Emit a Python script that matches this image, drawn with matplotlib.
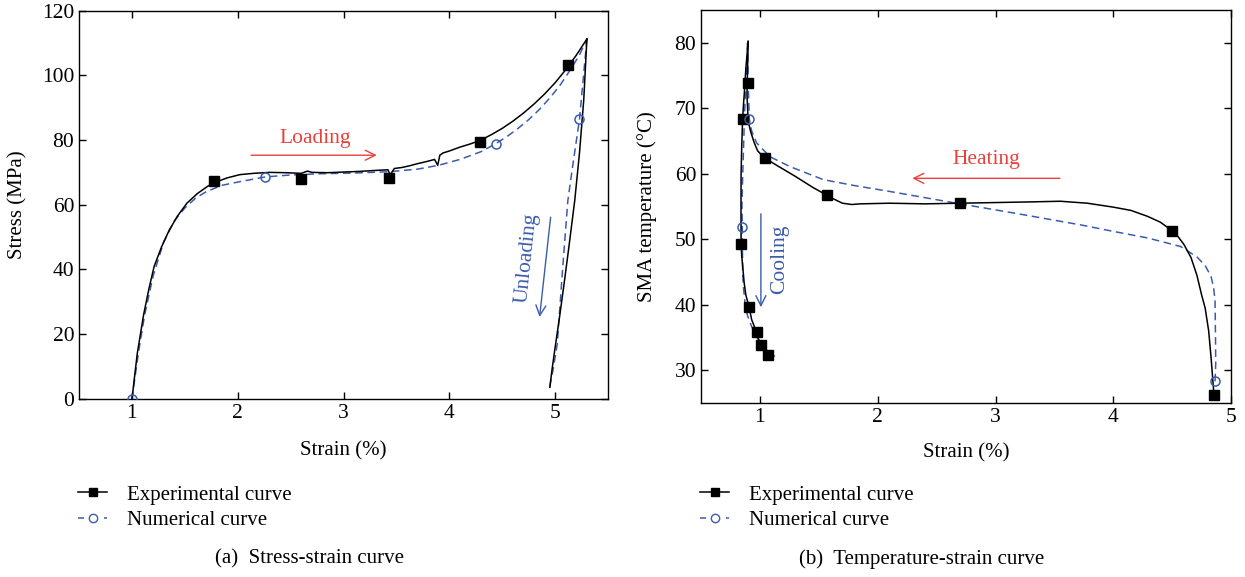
import matplotlib
matplotlib.use("Agg")
import matplotlib.pyplot as plt
from matplotlib.lines import Line2D

# ---------- data: (a) stress-strain ----------
exp_load_strain = [1.00, 1.05, 1.11, 1.16, 1.21, 1.28, 1.35, 1.43, 1.52, 1.62, 1.72, 1.80, 1.90,
                   2.02, 2.15, 2.30, 2.45, 2.60, 2.66, 2.70, 2.85, 3.00, 3.15, 3.30, 3.42, 3.44,
                   3.48, 3.55, 3.62, 3.70, 3.78, 3.86, 3.89, 3.91, 3.94, 4.00, 4.10, 4.20, 4.30,
                   4.40, 4.50, 4.60, 4.70, 4.80, 4.90, 5.00, 5.10, 5.20, 5.30]
exp_load_stress = [0, 14, 26, 34, 41, 47, 52, 56.5, 60.5, 63.5, 65.8, 67.1, 68.3,
                   69.3, 69.7, 70.0, 69.9, 69.7, 70.4, 70.0, 69.9, 70.1, 70.3, 70.6, 70.8, 69.2,
                   71.2, 71.5, 72.0, 72.7, 73.3, 74.0, 72.2, 75.3, 76.0, 76.6, 77.8, 78.8, 80.0,
                   81.7, 83.6, 85.8, 88.3, 91.1, 94.2, 97.7, 101.7, 106.2, 111.2]
exp_unload_strain = [5.30, 5.27, 5.23, 5.185, 5.13, 5.08, 5.04, 5.00, 4.97, 4.95]
exp_unload_stress = [111.2, 92.3, 76, 61.3, 47, 34.5, 25, 16, 9, 3.6]

num_load_strain = [1.00, 1.06, 1.12, 1.20, 1.30, 1.40, 1.50, 1.60, 1.70, 1.85, 2.00, 2.26, 2.50,
                   2.80, 3.10, 3.43, 3.70, 3.90, 4.10, 4.30, 4.44, 4.55, 4.65, 4.75, 4.85, 4.95,
                   5.05, 5.15, 5.23, 5.30]
num_load_stress = [0, 14, 26, 38, 48.5, 55, 59, 62, 64, 66, 67, 68.6, 69.2,
                   69.6, 69.8, 70.2, 71.0, 72.2, 74.0, 76.4, 78.9, 81.2, 83.6, 86.3, 89.4, 93.0,
                   97.1, 102.0, 106.3, 111.2]
num_unload_strain = [5.30, 5.23, 5.17, 5.12, 5.07, 5.02, 4.98, 4.94]
num_unload_stress = [111.2, 86.4, 73, 61.3, 40, 17, 9, 2.5]

exp_mark_strain = [1.78, 2.60, 3.43, 4.29, 5.12]
exp_mark_stress = [67.2, 68.0, 68.4, 79.5, 103.2]
num_mark_strain = [1.00, 2.26, 4.44, 5.23]
num_mark_stress = [0, 68.6, 78.9, 86.4]

# ---------- data: (b) temperature-strain ----------
exp_heat_strain = [4.855, 4.845, 4.83, 4.81, 4.78, 4.75, 4.71, 4.66, 4.60, 4.55, 4.50, 4.40, 4.29,
                   4.15, 4.00, 3.78, 3.55, 3.30, 3.00, 2.70, 2.40, 2.10, 1.85, 1.78, 1.70, 1.62,
                   1.57, 1.45, 1.30, 1.15, 1.04, 0.98, 0.95, 0.92, 0.90, 0.89, 0.90]
exp_heat_temp = [26.2, 28.5, 32, 36, 39.5, 41.5, 44.5, 47.2, 49.2, 50.4, 51.3, 52.6, 53.5,
                 54.4, 54.9, 55.5, 55.8, 55.7, 55.6, 55.5, 55.4, 55.5, 55.4, 55.3, 55.5, 56.2,
                 56.7, 57.9, 59.6, 61.2, 62.4, 63.5, 64.8, 66.5, 68, 72, 80.2]
exp_cool_strain = [0.90, 0.88, 0.87, 0.86, 0.853, 0.845, 0.84, 0.839, 0.84, 0.845, 0.853, 0.865,
                   0.88, 0.907, 0.93, 0.95, 0.972, 0.99, 1.008, 1.04, 1.071, 1.085]
exp_cool_temp = [80.2, 76, 73, 70.5, 68.4, 64, 60, 55, 49.2, 47.5, 46.0, 43.5,
                 41.5, 39.7, 37.7, 36.8, 35.8, 34.6, 33.9, 33.0, 32.4, 32.2]

num_heat_strain = [4.864, 4.87, 4.868, 4.864, 4.85, 4.83, 4.78, 4.71, 4.57, 4.29, 4.00, 3.72,
                   3.156, 2.70, 2.10, 1.80, 1.537, 1.254, 1.085, 0.972, 0.93, 0.91, 0.90, 0.895]
num_heat_temp = [28.3, 31, 35, 40.7, 42.8, 44.3, 46.0, 47.3, 48.9, 50.2, 51.2, 52.2,
                 54.0, 55.4, 57.3, 58.2, 59.1, 61.1, 62.6, 64.7, 66.5, 68.3, 74, 80]
num_cool_strain = [0.895, 0.88, 0.868, 0.859, 0.851, 0.847, 0.850, 0.853, 0.862, 0.873, 0.895,
                   0.929, 0.97, 1.014, 1.07, 1.127]
num_cool_temp = [80, 74, 68.5, 63, 58, 55, 51.8, 44.8, 42.3, 40.3, 38.3,
                 36.7, 35.2, 33.9, 32.9, 32.1]

exp_sq_strain = [4.855, 4.496, 2.70, 1.573, 1.042, 0.895, 0.853, 0.839, 0.907, 0.972, 1.008, 1.071]
exp_sq_temp = [26.2, 51.3, 55.5, 56.7, 62.4, 73.9, 68.4, 49.2, 39.7, 35.8, 33.9, 32.4]
num_c_strain = [4.864, 0.91, 0.85]
num_c_temp = [28.3, 68.3, 51.8]

BLUE = "#3b5cad"
RED = "#e8413c"
FS = 15

plt.rcParams["font.family"] = ["Liberation Serif", "DejaVu Serif"]
plt.rcParams["font.size"] = FS

fig = plt.figure(figsize=(12.45, 5.77), dpi=100)
ax1 = fig.add_axes([0.0635, 0.3085, 0.4249, 0.6733])
ax2 = fig.add_axes([0.5631, 0.3016, 0.4257, 0.6811])


def style_axis(ax):
    ax.tick_params(direction="in", length=5, width=1, top=True, right=True, labelsize=15.5)
    for s in ax.spines.values():
        s.set_linewidth(1.0)


def draw_exp(ax, xs, ys):
    ax.plot(xs, ys, color="black", lw=1.1, zorder=3)


def draw_num(ax, xs, ys):
    ax.plot(xs, ys, color=BLUE, lw=1.1, ls=(0, (5, 3)), zorder=2)


# ---- (a) ----
draw_exp(ax1, exp_load_strain, exp_load_stress)
draw_exp(ax1, exp_unload_strain, exp_unload_stress)
draw_num(ax1, num_load_strain, num_load_stress)
draw_num(ax1, num_unload_strain, num_unload_stress)
ax1.plot(exp_mark_strain, exp_mark_stress, "s", color="black", ms=7, zorder=4)
ax1.plot(num_mark_strain, num_mark_stress, "o", mfc="none", mec=BLUE, mew=1.1, ms=6.5, zorder=4)

ax1.annotate("", xy=(3.34, 75.3), xytext=(2.10, 75.3),
             arrowprops=dict(arrowstyle="->", color=RED, lw=1.0, mutation_scale=18))
ax1.text(2.73, 80.5, "Loading", color=RED, ha="center", va="center", fontsize=15.5)
ax1.annotate("", xy=(4.85, 24.5), xytext=(4.96, 57),
             arrowprops=dict(arrowstyle="->", color=BLUE, lw=1.0, mutation_scale=18))
ax1.text(4.73, 43.5, "Unloading", color=BLUE, ha="center", va="center", rotation=84, fontsize=15.5)

ax1.set_xlim(0.5, 5.5)
ax1.set_ylim(0, 120)
ax1.set_xticks([1, 2, 3, 4, 5])
ax1.set_yticks([0, 20, 40, 60, 80, 100, 120])
ax1.set_xlabel("Strain (%)", fontsize=FS)
ax1.set_ylabel("Stress (MPa)", fontsize=FS)
ax1.xaxis.set_label_coords(0.5, -0.108)
ax1.yaxis.set_label_coords(-0.098, 0.5)
style_axis(ax1)

# ---- (b) ----
draw_exp(ax2, exp_heat_strain, exp_heat_temp)
draw_exp(ax2, exp_cool_strain, exp_cool_temp)
draw_num(ax2, num_heat_strain, num_heat_temp)
draw_num(ax2, num_cool_strain, num_cool_temp)
ax2.plot(exp_sq_strain, exp_sq_temp, "s", color="black", ms=7, zorder=4)
ax2.plot(num_c_strain, num_c_temp, "o", mfc="none", mec=BLUE, mew=1.1, ms=6.5, zorder=4)

ax2.annotate("", xy=(2.27, 59.3), xytext=(3.57, 59.3),
             arrowprops=dict(arrowstyle="->", color=RED, lw=1.0, mutation_scale=18))
ax2.text(2.92, 62.2, "Heating", color=RED, ha="center", va="center", fontsize=15.5)
ax2.annotate("", xy=(1.008, 39.2), xytext=(1.008, 54.3),
             arrowprops=dict(arrowstyle="->", color=BLUE, lw=1.0, mutation_scale=18))
ax2.text(1.17, 47.0, "Cooling", color=BLUE, ha="center", va="center", rotation=90, fontsize=15.5)

ax2.set_xlim(0.5, 5.0)
ax2.set_ylim(25, 85)
ax2.set_xticks([1, 2, 3, 4, 5])
ax2.set_yticks([30, 40, 50, 60, 70, 80])
ax2.set_xlabel("Strain (%)", fontsize=FS)
ax2.set_ylabel("SMA temperature (°C)", fontsize=FS)
ax2.xaxis.set_label_coords(0.5, -0.102)
ax2.yaxis.set_label_coords(-0.083, 0.5)
style_axis(ax2)

# ---- legends + captions ----
handles = [Line2D([], [], color="black", lw=1.1, marker="s", ms=6),
           Line2D([], [], color=BLUE, lw=1.1, ls=(0, (4, 4.5)), marker="o", mfc="white",
                  mec=BLUE, ms=6)]
labels = ["Experimental curve", "Numerical curve"]
for x0 in (78 / 1245, 700 / 1245):
    fig.legend(handles, labels, loc="upper left", bbox_to_anchor=(x0, 1 - 485 / 577),
               bbox_transform=fig.transFigure, frameon=False, fontsize=FS,
               borderpad=0, borderaxespad=0, handlelength=1.4, handletextpad=0.95,
               labelspacing=0.3, numpoints=1)

fig.text(0.2486, 1 - 559 / 577, "(a)  Stress-strain curve", ha="center", va="center", fontsize=FS)
fig.text(0.7406, 1 - 559 / 577, "(b)  Temperature-strain curve", ha="center", va="center", fontsize=FS)

fig.savefig("out.png", dpi=100)
